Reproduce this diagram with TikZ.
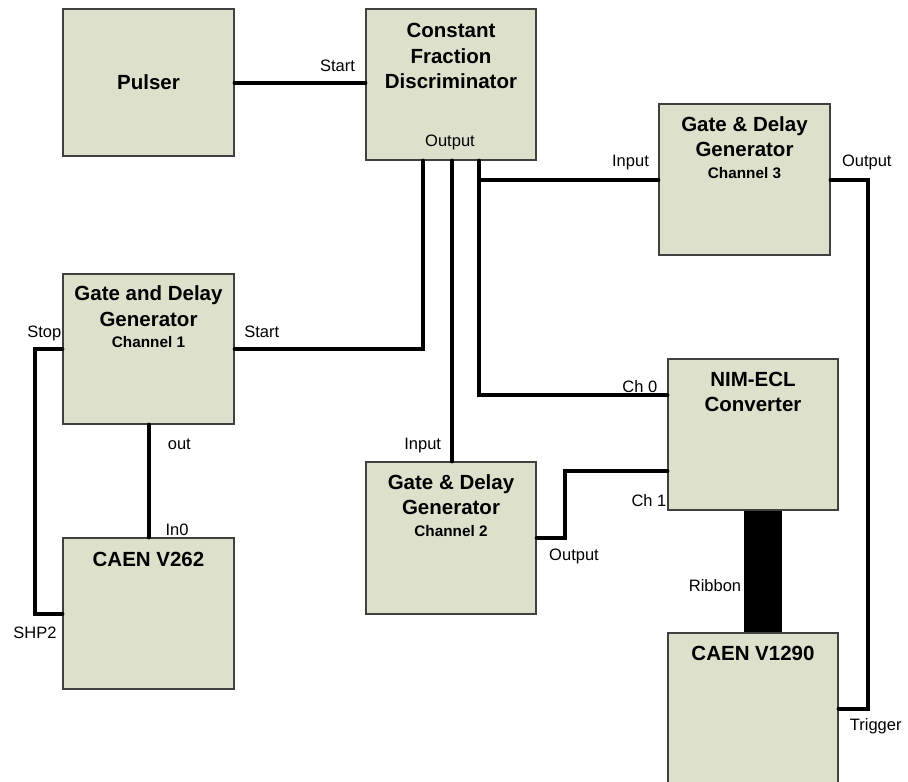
\documentclass[tikz,border=0pt]{standalone}
\usepackage{fontspec}
\setmainfont{Liberation Sans}
\usetikzlibrary{calc}
\definecolor{boxfill}{RGB}{221,225,204}
\definecolor{boxline}{RGB}{64,64,64}
\begin{document}
\begin{tikzpicture}[x=1pt,y=-1pt,
  box/.style={draw=boxline, line width=1.2pt, fill=boxfill, inner sep=0pt, minimum width=#1, minimum height=151pt},
  box/.default=171pt,
  wire/.style={line width=4pt, line cap=round},
  ttl/.style={anchor=base, inner sep=0pt, font=\fontsize{20.5}{24}\selectfont\bfseries},
  sub/.style={anchor=base, inner sep=0pt, font=\fontsize{15.3}{18}\selectfont\bfseries},
  lbl/.style={anchor=base, inner sep=0pt, font=\fontsize{16.5}{20}\selectfont}]
\useasboundingbox (0,0) rectangle (908,782);

% boxes
\node[box, minimum height=147pt] (pulser) at (148.5,82.5) {};
\node[box=170pt] (cfd) at (451,84.5) {};
\node[box] (ch3) at (744.5,179.5) {};
\node[box, minimum height=150pt] (ch1) at (148.5,349) {};
\node[box=170pt] (nim) at (753,434.5) {};
\node[box=170pt, minimum height=152pt] (ch2) at (451,538) {};
\node[box] (v262) at (148.5,613.5) {};
\node[box=170pt] (v1290) at (753,708.5) {};

% titles
\node[ttl] (tp) at (148.5,89.5) {Pulser};
\node[ttl] (tc1) at (451,37.3) {Constant};
\node[ttl] (tc2) at (451,63.3) {Fraction};
\node[ttl] (tc3) at (451,88.5) {Discriminator};
\node[ttl] (t31) at (744.5,131.5) {Gate \& Delay};
\node[ttl] (t32) at (744.5,156.7) {Generator};
\node[sub] (t33) at (744.5,178.3) {Channel 3};
\node[ttl] (t11) at (148.5,300.7) {Gate and Delay};
\node[ttl] (t12) at (148.5,326) {Generator};
\node[sub] (t13) at (148.5,347.3) {Channel 1};
\node[ttl] (tn1) at (753,386) {NIM-ECL};
\node[ttl] (tn2) at (753,411.7) {Converter};
\node[ttl] (t21) at (451,489.5) {Gate \& Delay};
\node[ttl] (t22) at (451,514.7) {Generator};
\node[sub] (t23) at (451,536.3) {Channel 2};
\node[ttl] (tv1) at (148.5,566) {CAEN V262};
\node[ttl] (tv2) at (753,660) {CAEN V1290};

% port labels
\node[lbl] (lstart) at (337.5,71.7) {Start};
\node[lbl] (lcfdout) at (450,146.5) {Output};
\node[lbl] (l3in) at (630.5,166.7) {Input};
\node[lbl] (l3out) at (866.8,166.7) {Output};
\node[lbl] (lstop) at (44.3,337.3) {Stop};
\node[lbl] (l1start) at (261.7,337.3) {Start};
\node[lbl] (lout) at (179.3,449.3) {out};
\node[lbl] (l2in) at (422.7,449) {Input};
\node[lbl] (lin0) at (177,535) {In0};
\node[lbl] (lshp) at (35,638.3) {SHP2};
\node[lbl] (lch0) at (639.8,392.3) {Ch 0};
\node[lbl] (lch1) at (649,506.7) {Ch 1};
\node[lbl] (l2out) at (574,560) {Output};
\node[lbl] (lrib) at (715,591.7) {Ribbon};
\node[lbl] (ltrig) at (875.7,730) {Trigger};

% connection points
\coordinate (o1) at ($(cfd.south)+(-28,0)$);
\coordinate (o2) at ($(cfd.south)+(1,0)$);
\coordinate (o3) at ($(cfd.south)+(28,0)$);
\coordinate (nc0) at ($(nim.north west)+(0,37)$);
\coordinate (nc1) at ($(nim.north west)+(0,113)$);
\coordinate (rb) at ($(nim.south)+(10,0)$);

% connectors
\draw[wire] (pulser.east) -- (pulser.east -| cfd.west);
\draw[wire] (o1) |- (ch1.east);
\draw[wire] (o2) -- (o2 |- ch2.north);
\draw[wire] (o3) |- (nc0);
\draw[wire] (o3 |- ch3.west) -- (ch3.west);
\draw[wire] (ch3.east) -- ++(37,0) |- (v1290.east);
\draw[wire] (ch2.east) -- ++(28,0) |- (nc1);
\draw[wire] (ch1.south) -- (v262.north);
\draw[wire] (ch1.west) -- ++(-27,0) |- (v262.west);
\draw[line width=38pt] (rb) -- (rb |- v1290.north);
\end{tikzpicture}
\end{document}
